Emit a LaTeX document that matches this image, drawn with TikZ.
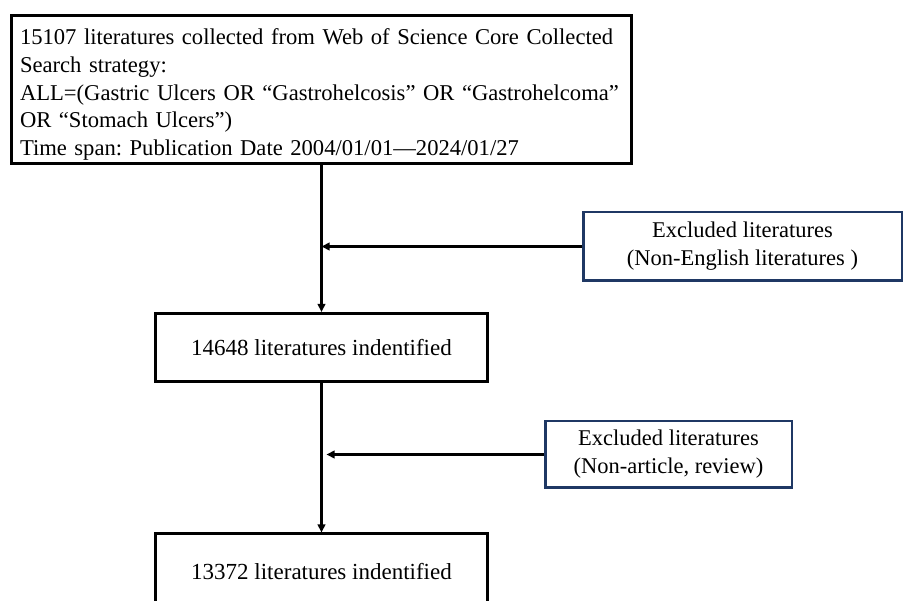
\documentclass[tikz,border=0pt]{standalone}
\usepackage{fontspec}
\setmainfont{Liberation Serif}
\usepackage{tikz}
\usetikzlibrary{arrows.meta}

\definecolor{navyline}{RGB}{31,56,100}
\frenchspacing

\begin{document}
\begin{tikzpicture}[
		x=1pt, y=-1pt,
		arrow/.style={line width=2.4pt, -{Triangle[length=8pt, width=7.5pt]}},
		mainbox/.style={draw, line width=3pt, fill=white, inner sep=0pt, font=\fontsize{23}{27.75}\selectfont},
		exbox/.style={draw=navyline, line width=2.5pt, fill=white, align=center, inner sep=0pt, font=\fontsize{22.5}{28}\selectfont}
	]
	\useasboundingbox (0, 0) rectangle (906, 601);
	\clip (0, 0) rectangle (906, 601);

	\node[mainbox, minimum width=620pt, minimum height=148pt, text width=603pt, align=left,
		font=\fontsize{22.6}{27.75}\selectfont] (search) at (321.5, 89.5)
		{\rule{0pt}{26pt}15107 literatures collected from Web of Science Core Collected\\
		Search strategy:\\
		ALL=(Gastric Ulcers OR “Gastrohelcosis” OR “Gastrohelcoma”\\
		OR “Stomach Ulcers”)\\
		Time span: Publication Date 2004/01/01—2024/01/27};

	\node[mainbox, minimum width=332pt, minimum height=68pt] (first) at (321.5, 347.5) {14648 literatures indentified};
	\node[mainbox, minimum width=332pt, minimum height=76pt] (second) at (321.5, 572) {13372 literatures indentified};

	\node[exbox, minimum width=318.5pt, minimum height=68.5pt] (lang) at (742.5, 246.5)
		{Excluded literatures\\(Non-English literatures )};
	\node[exbox, minimum width=246.5pt, minimum height=66.5pt] (type) at (668.5, 454.5)
		{Excluded literatures\\(Non-article, review)};

	\draw[arrow] (search.south) -- (first.north);
	\draw[arrow] (first.south) -- (second.north);

	\draw[arrow] (lang.west) -- (lang.west -| search.south);
	\draw[arrow] (type.west) -- ([xshift=5pt]type.west -| first.south);
\end{tikzpicture}
\end{document}
